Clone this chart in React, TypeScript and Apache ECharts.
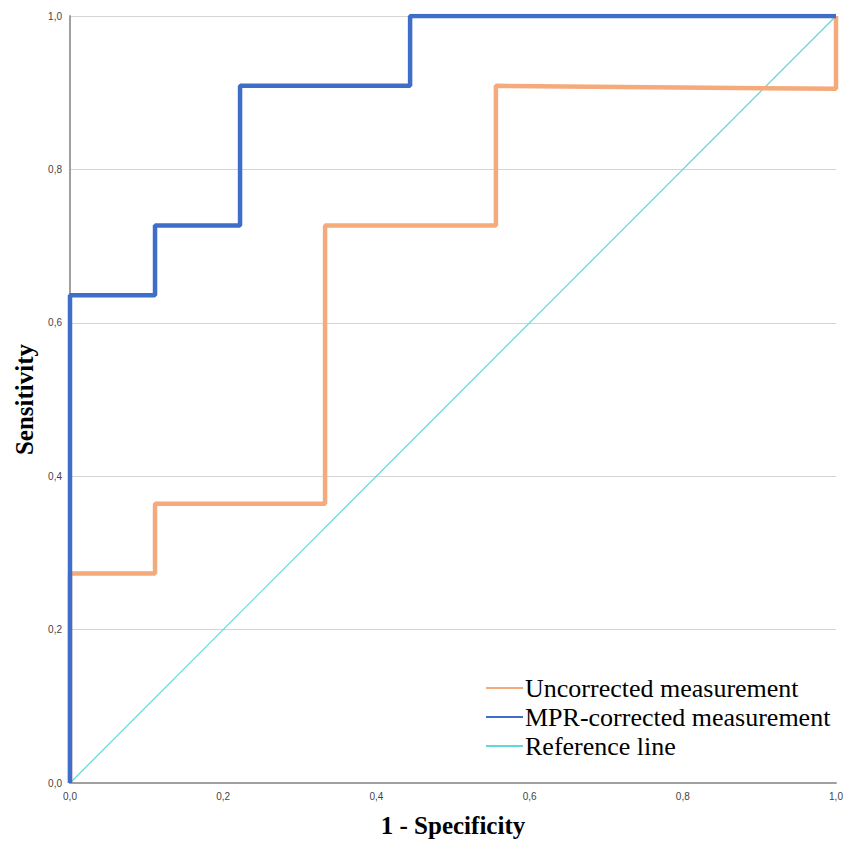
import React, { useEffect, useRef } from "react";
import * as echarts from "echarts";

const uncorrectedX = [0, 0, 0.111, 0.111, 0.333, 0.333, 0.556, 0.556, 1.0, 1.0];
const uncorrectedY = [0, 0.273, 0.273, 0.364, 0.364, 0.727, 0.727, 0.909, 0.905, 1.0];
const mprX = [0, 0, 0.111, 0.111, 0.222, 0.222, 0.444, 0.444, 1.0];
const mprY = [0, 0.636, 0.636, 0.727, 0.727, 0.909, 0.909, 1.0, 1.0];
const refX = [0, 1];
const refY = [0, 1];
const seriesNames = ["Uncorrected measurement", "MPR-corrected measurement", "Reference line"];

const zip = (xs: number[], ys: number[]) => xs.map((x, i) => [x, ys[i]]);
const fmt = (v: number) => v.toFixed(1).replace(".", ",");

export default function App() {
  const ref = useRef<HTMLDivElement>(null);
  useEffect(() => {
    document.body.style.margin = "0";
    const chart = echarts.init(ref.current!, undefined, { renderer: "svg" });
    const serif = "'Liberation Serif', 'Times New Roman', serif";
    chart.setOption({
      animation: false,
      backgroundColor: "#ffffff",
      grid: { left: 70, right: 10, top: 16, bottom: 58, containLabel: false, outerBoundsMode: "none" },
      legend: {
        orient: "vertical",
        left: 480,
        top: 670,
        itemWidth: 37,
        itemHeight: 14,
        itemGap: 3,
        data: seriesNames,
        itemStyle: { opacity: 0 },
        textStyle: { fontFamily: serif, fontSize: 26, color: "#000", padding: [0, 0, 0, -3] },
      },
      xAxis: {
        type: "value",
        min: 0,
        max: 1,
        interval: 0.2,
        name: "1 - Specificity",
        nameLocation: "middle",
        nameGap: 30,
        nameTextStyle: { fontFamily: serif, fontSize: 25, fontWeight: "bold", color: "#000" },
        axisLine: { lineStyle: { color: "#a0a0a0", width: 2 } },
        axisTick: { show: false },
        splitLine: { show: false },
        axisLabel: { formatter: fmt, fontFamily: "Arial, 'Liberation Sans', sans-serif", fontSize: 10, color: "#444", margin: 8 },
      },
      yAxis: {
        type: "value",
        min: 0,
        max: 1,
        interval: 0.2,
        name: "Sensitivity",
        nameLocation: "middle",
        nameGap: 33,
        nameTextStyle: { fontFamily: serif, fontSize: 25, fontWeight: "bold", color: "#000" },
        axisLine: { show: true, lineStyle: { color: "#a0a0a0", width: 2 } },
        axisTick: { show: false },
        splitLine: { show: true, lineStyle: { color: "#d4d4d4", width: 1 } },
        axisLabel: { formatter: fmt, fontFamily: "Arial, 'Liberation Sans', sans-serif", fontSize: 10, color: "#444", margin: 8 },
      },
      series: [
        {
          name: seriesNames[2],
          type: "line",
          data: zip(refX, refY),
          symbol: "none",
          lineStyle: { color: "#5fd8dc", width: 1.2 },
          itemStyle: { color: "#5fd8dc" },
          z: 1,
        },
        {
          name: seriesNames[0],
          type: "line",
          data: zip(uncorrectedX, uncorrectedY),
          symbol: "none",
          lineStyle: { color: "#f4aa7a", width: 4.5 },
          itemStyle: { color: "#f4aa7a" },
          z: 2,
        },
        {
          name: seriesNames[1],
          type: "line",
          data: zip(mprX, mprY),
          symbol: "none",
          lineStyle: { color: "#3e6ec8", width: 4.5 },
          itemStyle: { color: "#3e6ec8" },
          z: 3,
        },
      ],
    });
    return () => chart.dispose();
  }, []);
  return <div ref={ref} style={{ width: 846, height: 841 }} />;
}
